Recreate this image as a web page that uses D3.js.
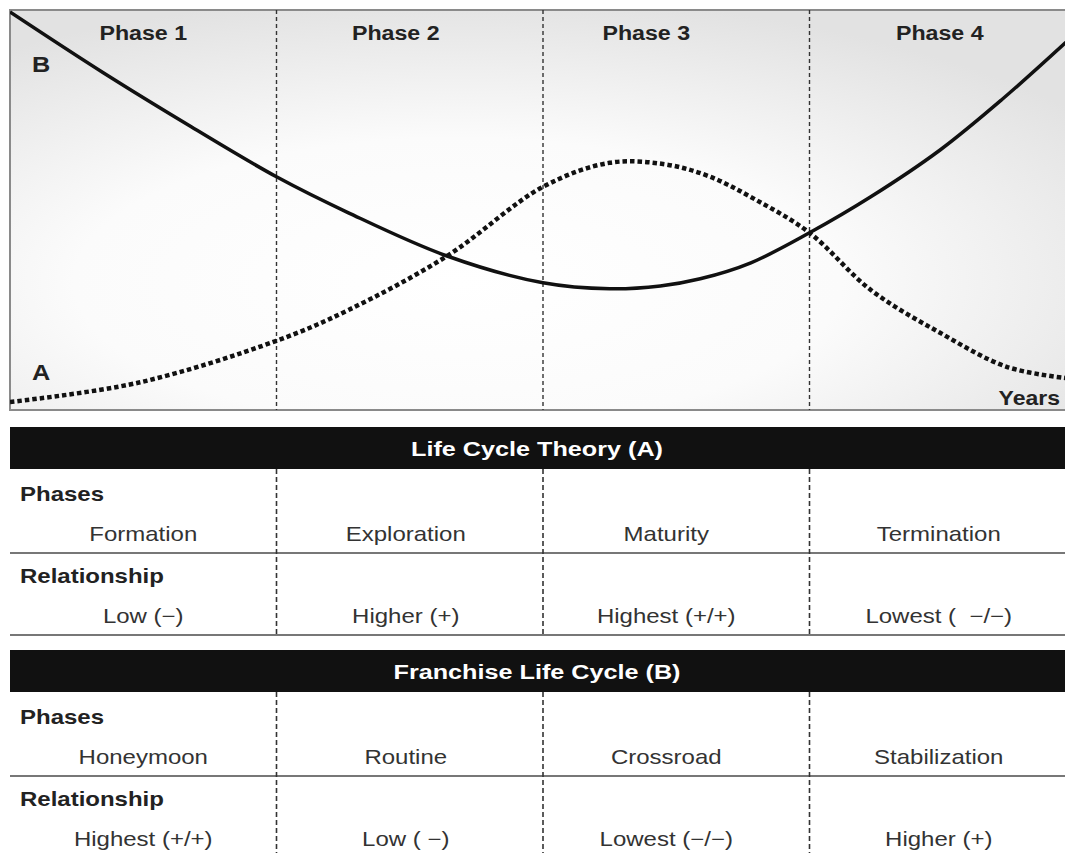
<!DOCTYPE html>
<html>
<head>
<meta charset="utf-8">
<script src="https://cdn.jsdelivr.net/npm/d3@7"></script>
<style>
  html, body { margin: 0; padding: 0; background: #ffffff; }
  svg { display: block; }
  text { font-family: "Liberation Sans", Arial, Helvetica, sans-serif; white-space: pre; }
</style>
</head>
<body>
<svg id="chart" width="1065" height="853"></svg>
<script>
// ---------- data ----------
const phaseLabels = ["Phase 1", "Phase 2", "Phase 3", "Phase 4"];
const phaseBounds = [1, 2, 3];          // years at which phases change
const xAxisLabel = "Years";
const seriesNames = ["A", "B"];

// Curve A: Life Cycle Theory (dotted) – [year, level]
const curveA = [
  [0.00, 2.0], [0.48, 6.8], [1.00, 17.3], [1.27, 25.0], [1.64, 38.5],
  [2.00, 55.8], [2.25, 61.8], [2.45, 61.5], [2.62, 58.5], [2.80, 52.5], [3.00, 44.3],
  [3.23, 30.0], [3.49, 19.3], [3.74, 10.8], [3.96, 8.0]
];
// Curve B: Franchise Life Cycle (solid) – [year, level]
const curveB = [
  [0.00, 99.5], [0.35, 84.3], [0.68, 70.8], [1.00, 58.3], [1.27, 49.3],
  [1.64, 38.5], [2.00, 31.8], [2.25, 30.3], [2.44, 31.0], [2.59, 32.8],
  [2.78, 36.8], [3.00, 44.3], [3.23, 53.3], [3.49, 65.0], [3.72, 77.5],
  [3.96, 91.8], [4.00, 94.3]
];

const rowLabels = ["Phases", "Relationship"];

const tableATitle = "Life Cycle Theory (A)";
const tableAPhases = ["Formation", "Exploration", "Maturity", "Termination"];
const tableARelations = ["Low (\u2212)", "Higher (+)", "Highest (+/+)", "Lowest (\u00a0 \u2212/\u2212)"];

const tableBTitle = "Franchise Life Cycle (B)";
const tableBPhases = ["Honeymoon", "Routine", "Crossroad", "Stabilization"];
const tableBRelations = ["Highest (+/+)", "Low ( \u2212)", "Lowest (\u2212/\u2212)", "Higher (+)"];

// ---------- layout ----------
const svg = d3.select("#chart");
const box = { left: 10, right: 1076, top: 10, bottom: 410 };
const x = d3.scaleLinear().domain([0, 4]).range([box.left, box.right]);
const y = d3.scaleLinear().domain([0, 100]).range([box.bottom, box.top]);
const SX = 1.18; // horizontal stretch of the original typography
const labelNudge = [0, -14, -30, -3];   // phase titles sit left of the column centres
const cellNudge = [0, -4, -10, -4];

const defs = svg.append("defs");
const grad = defs.append("radialGradient").attr("id", "bg")
  .attr("cx", "42%").attr("cy", "68%").attr("r", "72%");
grad.append("stop").attr("offset", "0%").attr("stop-color", "#ffffff");
grad.append("stop").attr("offset", "50%").attr("stop-color", "#fbfbfb");
grad.append("stop").attr("offset", "100%").attr("stop-color", "#e2e2e2");
defs.append("clipPath").attr("id", "clip").append("rect")
  .attr("x", box.left).attr("y", box.top)
  .attr("width", box.right - box.left).attr("height", box.bottom - box.top);

function stretchedText(g, tx, ty, str, opts) {
  return g.append("text")
    .attr("transform", `translate(${tx},${ty}) scale(${opts.sx || SX},1)`)
    .attr("text-anchor", opts.anchor || "start")
    .attr("font-size", opts.size || 20)
    .attr("font-weight", opts.weight || "normal")
    .attr("fill", opts.fill || "#222")
    .text(str);
}

// ---------- chart ----------
const chart = svg.append("g");
chart.append("rect")
  .attr("x", box.left).attr("y", box.top)
  .attr("width", box.right - box.left).attr("height", box.bottom - box.top)
  .attr("fill", "url(#bg)").attr("stroke", "#8a8a8a").attr("stroke-width", 2);

chart.selectAll("line.div").data(phaseBounds).join("line")
  .attr("class", "div")
  .attr("x1", d => x(d)).attr("x2", d => x(d))
  .attr("y1", box.top).attr("y2", box.bottom)
  .attr("stroke", "#333").attr("stroke-width", 1.4)
  .attr("stroke-dasharray", "4,3");

const centers = phaseLabels.map((p, i) => x(i + 0.5));
phaseLabels.forEach((p, i) =>
  stretchedText(chart, centers[i] + labelNudge[i], 40, p, { anchor: "middle", weight: "bold", size: 20, sx: 1.16, fill: "#222" }));

const line = d3.line().x(d => x(d[0])).y(d => y(d[1])).curve(d3.curveCatmullRom.alpha(0.5));
const curves = chart.append("g").attr("clip-path", "url(#clip)");
curves.append("path").datum(curveB).attr("d", line)
  .attr("fill", "none").attr("stroke", "#111").attr("stroke-width", 3.5);
curves.append("path").datum(curveA).attr("d", line)
  .attr("fill", "none").attr("stroke", "#111").attr("stroke-width", 4.5)
  .attr("stroke-dasharray", "4.5,3");

stretchedText(chart, 32, 72, seriesNames[1], { weight: "bold", size: 22, sx: 1.15 });
stretchedText(chart, 32, 380, seriesNames[0], { weight: "bold", size: 22, sx: 1.15 });
stretchedText(chart, 1060, 405, xAxisLabel, { anchor: "end", weight: "bold", size: 20, sx: 1.15 });

// ---------- tables ----------
function drawTable(top, title, phases, relations) {
  const g = svg.append("g");
  const headH = 42, row1 = 84, row2 = 82;
  const left = 10, right = 1076;
  g.append("rect").attr("x", left).attr("y", top).attr("width", right - left).attr("height", headH)
    .attr("fill", "#111");
  stretchedText(g, 537, top + 29, title, { anchor: "middle", weight: "bold", size: 21, fill: "#fff", sx: 1.2 });
  const r1 = top + headH, r2 = r1 + row1, r3 = r2 + row2;
  [r2, r3].forEach(yy => g.append("line").attr("x1", left).attr("x2", right)
    .attr("y1", yy).attr("y2", yy).attr("stroke", "#777").attr("stroke-width", 2));
  g.selectAll("line.col").data(phaseBounds).join("line").attr("class", "col")
    .attr("x1", d => x(d)).attr("x2", d => x(d))
    .attr("y1", r1).attr("y2", r3)
    .attr("stroke", "#333").attr("stroke-width", 1.6).attr("stroke-dasharray", "5,3");
  stretchedText(g, 20, r1 + 32, rowLabels[0], { weight: "bold", size: 20, fill: "#222", sx: 1.2 });
  stretchedText(g, 20, r2 + 30, rowLabels[1], { weight: "bold", size: 20, fill: "#222", sx: 1.2 });
  phases.forEach((p, i) => stretchedText(g, centers[i] + cellNudge[i], r1 + 72, p, { anchor: "middle", size: 20, fill: "#333", sx: 1.2 }));
  relations.forEach((p, i) => stretchedText(g, centers[i] + cellNudge[i], r2 + 70, p, { anchor: "middle", size: 20, fill: "#333", sx: 1.2 }));
}
drawTable(427, tableATitle, tableAPhases, tableARelations);
drawTable(650, tableBTitle, tableBPhases, tableBRelations);
</script>
</body>
</html>
